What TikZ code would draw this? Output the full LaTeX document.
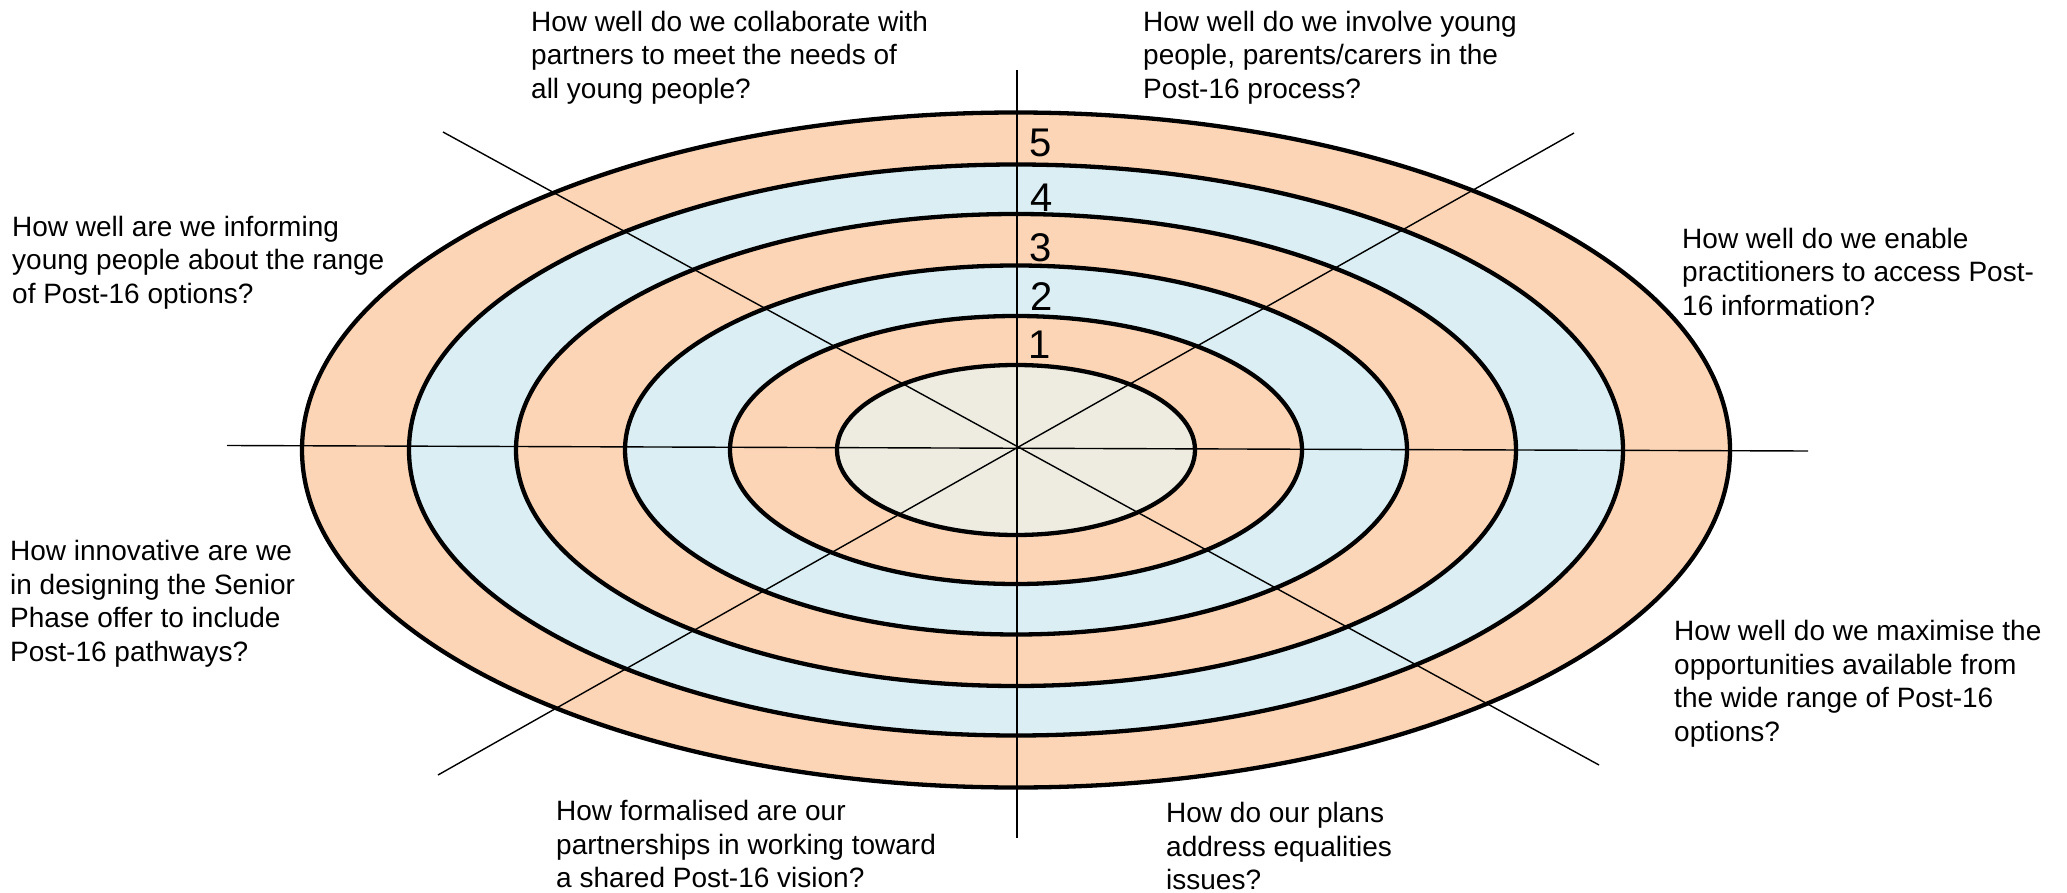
\documentclass[tikz,border=0pt]{standalone}
\usepackage{fontspec}
\setmainfont{Liberation Sans}
\definecolor{peach}{HTML}{FBD5B5}
\definecolor{ltblue}{HTML}{DAEEF3}
\definecolor{core}{HTML}{EEECE1}
\begin{document}
\begin{tikzpicture}[x=1pt,y=-1pt,
  ring/.style={draw=black,line width=4.3pt},
  spoke/.style={draw=black,line width=1.4pt},
  q/.style={anchor=north west,inner sep=0pt,align=left,font=\fontsize{28}{33.5}\selectfont},
  num/.style={anchor=base,inner sep=0pt,font=\fontsize{40}{44}\selectfont}]
\useasboundingbox (0,0) rectangle (2067,893);
\coordinate (c) at (1016,450);
\path[fill=peach, ring]  (c) ellipse [x radius=714pt, y radius=337.5pt];
\path[fill=ltblue, ring] (c) ellipse [x radius=607pt, y radius=285.5pt];
\path[fill=peach, ring]  (c) ellipse [x radius=500pt, y radius=236pt];
\path[fill=ltblue, ring] (c) ellipse [x radius=391pt, y radius=184.5pt];
\path[fill=peach, ring]  (c) ellipse [x radius=286pt, y radius=134pt];
\path[fill=core, ring]   (c) ellipse [x radius=179pt, y radius=85pt];
\coordinate (vt) at (1017,70);
\coordinate (vb) at (1017,838);
\coordinate (hl) at (227,445.5);
\coordinate (hr) at (1808,451);
\coordinate (d1a) at (443,132);
\coordinate (d1b) at (1599,765);
\coordinate (d2a) at (438,775);
\coordinate (d2b) at (1574,133);
\draw[spoke] (vt) -- (vb);
\draw[spoke] (hl) -- (hr);
\draw[spoke] (d1a) -- (d1b);
\draw[spoke] (d2a) -- (d2b);
\node[num] (n5) at (1041,156.7) {5};
\node[num] (n4) at (1042,211.7) {4};
\node[num] (n3) at (1041,261.7) {3};
\node[num] (n2) at (1042,310.7) {2};
\node[num] (n1) at (1040,359) {1};
\node[q] (t1) at (531,7.5) {\strut How well do we collaborate with\\partners to meet the needs of\\all young people?};
\node[q] (t2) at (1143,7.5) {\strut How well do we involve young\\people, parents/carers in the\\Post-16 process?};
\node[q] (t3) at (12,212.5) {\strut How well are we informing\\young people about the range\\of Post-16 options?};
\node[q] (t4) at (1682,224.5) {\strut How well do we enable\\practitioners to access Post-\\16 information?};
\node[q] (t5) at (10,537.2) {\strut How innovative are we\\in designing the Senior\\Phase offer to include\\Post-16 pathways?};
\node[q] (t6) at (1674,617.2) {\strut How well do we maximise the\\opportunities available from\\the wide range of Post-16\\options?};
\node[q] (t7) at (556,797.2) {\strut How formalised are our\\partnerships in working toward\\a shared Post-16 vision?};
\node[q] (t8) at (1166,799.2) {\strut How do our plans\\address equalities\\issues?};
\end{tikzpicture}
\end{document}
